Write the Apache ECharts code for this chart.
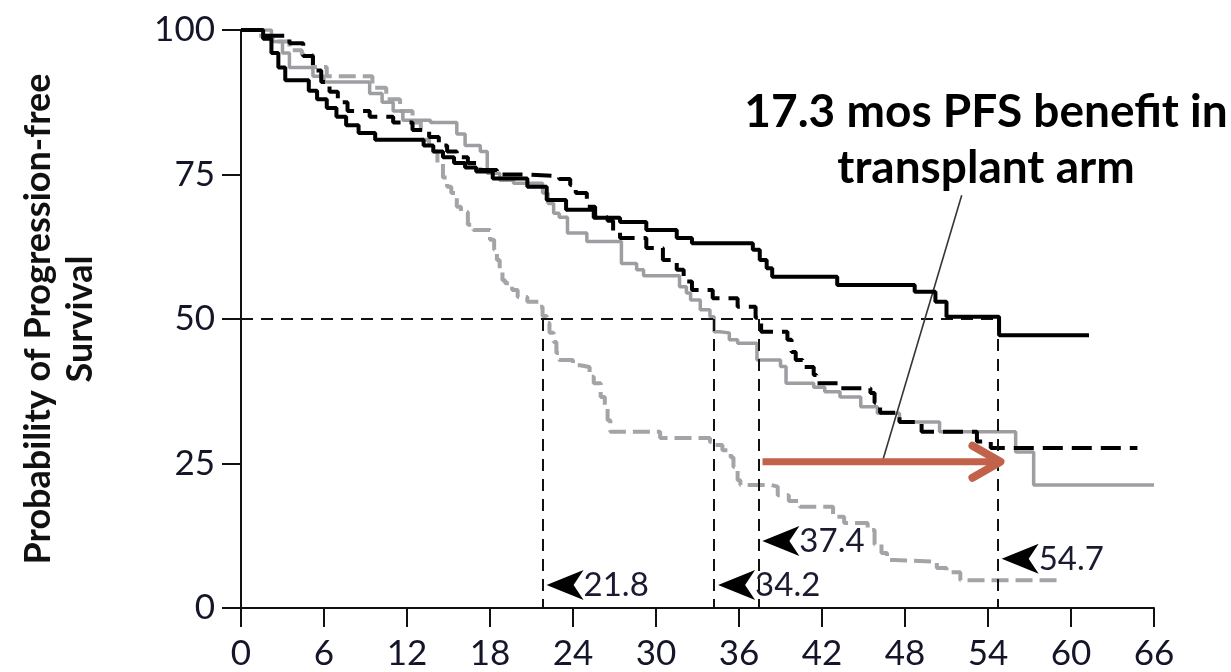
<!DOCTYPE html>
<html><head><meta charset="utf-8">
<script src="https://cdn.jsdelivr.net/npm/echarts@6/dist/echarts.min.js"></script>
<style>html,body{margin:0;padding:0;background:#fff}#c{width:1231px;height:672px}</style>
</head><body><div id="c"></div>
<script>
// ---- data (months, % progression-free) ----
const xTickLabels = [0, 6, 12, 18, 24, 30, 36, 42, 48, 54, 60, 66];
const yTickLabels = [0, 25, 50, 75, 100];

const solidBlack = [[0,100],[1.6,98.5],[2.2,96],[2.7,93.5],[3.2,91.3],[4.9,89.5],[5.5,88],[6.2,86.5],[6.9,85],[7.6,83.5],[8.5,82.2],[9.7,81],[13.2,80],[13.9,79],[14.6,78],[15.4,77],[16.2,76.2],[17.0,75.5],[18.2,74.3],[20.7,72.9],[22.1,70.6],[23.5,68.9],[25.5,67.5],[27.4,66.8],[29.3,65.4],[31.5,64],[32.6,63.1],[37.0,62],[37.5,60.2],[38.0,58.8],[38.4,57.3],[43.1,55.9],[48.7,54.7],[50.2,53],[51.0,50.4],[54.8,47.2],[61.3,47.2]];

const dashedBlack = [[0,100],[1.6,99],[3.5,97.7],[4.5,95.5],[5.2,93],[5.8,91],[6.4,89.3],[7.0,87.5],[7.7,86],[9.3,85],[11.0,84],[12.4,82.7],[13.6,81.5],[14.3,80],[14.9,79],[15.6,78],[16.4,77],[17.3,75.8],[18.5,75],[20.6,74.7],[23.0,74.2],[23.8,73.2],[24.2,71.8],[25.0,69.4],[25.6,67.6],[26.5,67],[26.9,65],[27.4,64],[29.3,62.3],[30.5,60.2],[31.5,58.5],[32.0,56.5],[32.6,55],[34.1,53.6],[35.9,52.1],[37.2,50.2],[37.6,47.8],[39.5,46.4],[39.8,44.3],[40.1,42.9],[40.6,41.7],[41.4,40.3],[41.6,38.9],[43.3,38],[45.5,37.2],[45.8,35.5],[46.2,33.8],[47.6,32.2],[49.2,30.5],[53.2,28.8],[54.2,27.7],[64.8,27.7]];

const solidGrey = [[0,100],[2.2,98],[3.0,96],[3.5,93.5],[5.2,92],[6.0,91],[9.3,89],[10.2,87.5],[11.0,86],[11.7,84.4],[13.7,84],[15.6,82],[16.2,80],[17.3,79],[17.8,75.2],[18.7,74],[19.7,73.5],[21.8,71.8],[22.2,70],[22.6,68.3],[23.0,67.6],[23.6,64.9],[25.0,63.4],[27.5,59.6],[28.6,58.5],[29.1,57.5],[31.7,55.6],[32.2,54.5],[32.5,53.3],[33.2,51.6],[33.9,50.4],[34.2,47.8],[34.6,47.6],[35.3,46.4],[35.9,45.8],[37.3,42.9],[39.0,41.8],[39.4,38.9],[41.4,38.2],[42.2,37.4],[43.3,36.5],[44.8,34.8],[46.0,33.7],[47.6,32.2],[50.5,30.5],[56.0,27.0],[57.3,21.3],[66.0,21.3]];

const dashedGrey = [[0,100],[1.2,99],[2.3,98],[3.5,96.5],[4.4,95.7],[5.2,93.6],[6.2,92],[9.5,90],[10.5,88],[11.5,86],[12.4,84],[13.0,81],[13.6,79],[14.2,77],[14.6,74.5],[14.9,72.9],[15.2,71.8],[15.6,69.4],[15.9,68.5],[16.4,66.3],[16.8,65.4],[18.0,63.7],[18.3,62],[18.5,60.2],[18.7,58.5],[18.9,56.7],[19.1,56.2],[19.6,55],[20.0,53.8],[20.7,53],[21.6,52.1],[21.8,50.5],[22.1,49.3],[22.3,47.6],[22.6,46],[22.8,44.1],[23.0,42.9],[24.0,42],[24.5,41.7],[25.2,40],[25.5,38.9],[26.0,36.5],[26.3,34.8],[26.5,32.5],[26.7,30.5],[30.3,29.4],[33.9,28.7],[34.1,28.2],[34.8,27.3],[35.4,26.1],[35.6,24.4],[35.9,22.1],[36.1,21.3],[38.3,21],[38.8,19.5],[39.6,18.5],[40.4,17.5],[42.8,15.8],[43.6,14.7],[45.3,13.5],[45.8,11],[46.3,9.5],[46.7,8.3],[47.2,8],[50.3,6.9],[51.0,6.2],[52.0,4.8],[59.0,4.8]];

// median annotations
const medians = [21.8, 34.2, 37.4, 54.7];
const medianLabels = ['21.8', '34.2', '37.4', '54.7'];
const medianLabelY = [4.0, 4.0, 11.6, 8.5];
const benefitArrow = [[37.7, 25.3], [54.9, 25.3]];
const pointerLine = [[52.1, 71.4], [46.4, 25.6]];
const calloutText = '17.3 mos PFS benefit in\ntransplant arm';

const chart = echarts.init(document.getElementById('c'), null, {renderer: 'canvas'});
const tickFont = 'Lato, "Open Sans", sans-serif';

function dashedMark(a, b) {
  return [{coord: a, lineStyle: {color: '#111', width: 2, type: [12, 8]}}, {coord: b}];
}
const markData = [dashedMark([0, 50], [medians[3], 50])];
medians.forEach(m => markData.push(dashedMark([m, 50], [m, 0])));
markData.push([{coord: pointerLine[0], lineStyle: {color: '#3a3333', width: 1.6, type: 'solid'}}, {coord: pointerLine[1]}]);

const option = {
  animation: false,
  backgroundColor: '#fff',
  grid: {left: 241, top: 30, right: 77, bottom: 64, containLabel: false, outerBoundsMode: 'none'},
  xAxis: {
    type: 'value', min: 0, max: 66, interval: 6,
    axisLine: {show: true, onZero: false, lineStyle: {color: '#111', width: 2}},
    axisTick: {show: true, length: 19, lineStyle: {color: '#111', width: 2}},
    axisLabel: {show: true, margin: 28, fontFamily: tickFont, fontSize: 35, color: '#15152a',
      showMinLabel: true, showMaxLabel: true, hideOverlap: false,
      formatter: v => xTickLabels.includes(v) ? String(v) : ''},
    splitLine: {show: false}
  },
  yAxis: {
    type: 'value', min: 0, max: 100, interval: 25,
    name: 'Probability of Progression-free\nSurvival',
    nameLocation: 'middle', nameRotate: 90, nameGap: 140,
    nameTextStyle: {fontFamily: tickFont, fontWeight: 'bold', fontSize: 36, lineHeight: 42, color: '#111', align: 'center'},
    axisLine: {show: true, lineStyle: {color: '#111', width: 2}},
    axisTick: {show: true, length: 19, lineStyle: {color: '#111', width: 2}},
    axisLabel: {show: true, margin: 26, fontFamily: tickFont, fontSize: 35, color: '#15152a',
      showMinLabel: true, showMaxLabel: true, hideOverlap: false,
      formatter: v => yTickLabels.includes(v) ? String(v) : ''},
    splitLine: {show: false}
  },
  series: [
    {name: 'Grey dashed', type: 'line', step: 'end', data: dashedGrey, symbol: 'none', z: 2,
      lineStyle: {color: '#a3a4a8', width: 4, type: [17, 7]}},
    {name: 'Grey solid', type: 'line', step: 'end', data: solidGrey, symbol: 'none', z: 3,
      lineStyle: {color: '#9d9ea2', width: 3.5, type: 'solid'}},
    {name: 'Black dashed', type: 'line', step: 'end', data: dashedBlack, symbol: 'none', z: 4,
      lineStyle: {color: '#000', width: 4, type: [20, 9]}},
    {name: 'Black solid', type: 'line', step: 'end', data: solidBlack, symbol: 'none', z: 5,
      lineStyle: {color: '#000', width: 4, type: 'solid'},
      markLine: {silent: true, symbol: ['none', 'none'], label: {show: false}, data: markData}}
  ]
};
chart.setOption(option);

function px(p) { return chart.convertToPixel({gridIndex: 0}, p); }
const graphics = [];
// median arrow labels
medians.forEach((m, i) => {
  const tip = px([m, medianLabelY[i]]);
  const tx = tip[0] + 4, ty = tip[1];
  graphics.push({type: 'polygon', silent: true, z: 20,
    shape: {points: [[tx, ty], [tx + 37, ty - 15], [tx + 27, ty], [tx + 37, ty + 15]]},
    style: {fill: '#000'}});
  graphics.push({type: 'text', silent: true, z: 20, x: tx + 37, y: ty,
    style: {text: medianLabels[i], font: '33px ' + tickFont, fill: '#1a1a30', textVerticalAlign: 'middle', textAlign: 'left'}});
});
// orange benefit arrow
const a0 = px(benefitArrow[0]), a1 = px(benefitArrow[1]);
graphics.push({type: 'polyline', silent: true, z: 25, shape: {points: [a0, [a1[0] - 2, a1[1]]]},
  style: {stroke: '#c2624a', lineWidth: 7, lineCap: 'butt'}});
graphics.push({type: 'polyline', silent: true, z: 25,
  shape: {points: [[a1[0] - 28, a1[1] - 16], a1, [a1[0] - 28, a1[1] + 16]]},
  style: {stroke: '#c2624a', lineWidth: 8, lineCap: 'round', lineJoin: 'round', fill: null}});
// callout text
graphics.push({type: 'text', silent: true, z: 30, x: 986, y: 140,
  style: {text: calloutText, font: 'bold 46px ' + tickFont, fill: '#000', textAlign: 'center', textVerticalAlign: 'middle', lineHeight: 56}});
chart.setOption({graphic: graphics});
</script>
</body></html>
